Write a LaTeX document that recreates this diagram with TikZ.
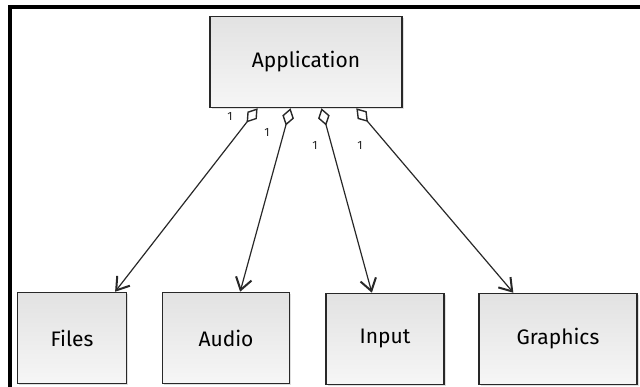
\documentclass[tikz,border=0pt]{standalone}
\usepackage{fontspec}
\setmainfont{Fira Sans}
\usepackage{tikz}
\usetikzlibrary{
  arrows.meta, positioning, calc, shadows
}
\usepackage{xcolor}
\definecolor{boxedge}{RGB}{40, 40, 40}
\definecolor{boxtop}{RGB}{226, 226, 226}
\definecolor{boxbot}{RGB}{246, 246, 246}

\begin{document}
\begin{tikzpicture}[
    x=1pt, y=-1pt,
    box/.style={draw=boxedge, line width=1.5pt, top color=boxtop, bottom color=boxbot,
                minimum height=91pt, align=center, font=\fontsize{21}{25}\selectfont,
                drop shadow={shadow xshift=1.5pt, shadow yshift=-1.5pt, opacity=0.25}},
    link/.style={line width=1.2pt, boxedge,
                 {Diamond[open, length=18pt, width=12pt, line width=1.4pt]}-{Straight Barb[length=12pt, width=16pt, line width=2pt]}},
    mult/.style={font=\fontsize{12}{14}\selectfont, inner sep=0pt, text=boxedge},
  ]
    \useasboundingbox (0,0) rectangle (640,387);

    % Frame
    \draw[line width=4pt] (10,387) -- (10,7) -- (640,7);

    % Top module
    \node[box, minimum width=192pt] (app) at (306,62) {Application};

    % Subsystems
    \node[box, minimum width=109pt] (files) at (72,338) {Files};
    \node[box, minimum width=127pt] (audio) at (226,338) {Audio};
    \node[box, minimum width=118pt] (input) at (385,339) {Input};
    \node[box, minimum width=158pt] (graph) at (558,339) {Graphics};

    % Aggregations
    \draw[link] ($(app.south west)!0.25!(app.south east)$) -- ($(files.north west)!0.89!(files.north east)$);
    \draw[link] ($(app.south west)!0.42!(app.south east)$) -- ($(audio.north west)!0.61!(audio.north east)$);
    \draw[link] ($(app.south west)!0.58!(app.south east)$) -- ($(input.north west)!0.39!(input.north east)$);
    \draw[link] ($(app.south west)!0.76!(app.south east)$) -- ($(graph.north west)!0.22!(graph.north east)$);

    % Multiplicities
    \node[mult] (m1) at (230,116) {1};
    \node[mult] (m2) at (267,132) {1};
    \node[mult] (m3) at (315,145) {1};
    \node[mult] (m4) at (360,145) {1};
  \end{tikzpicture}
\end{document}
